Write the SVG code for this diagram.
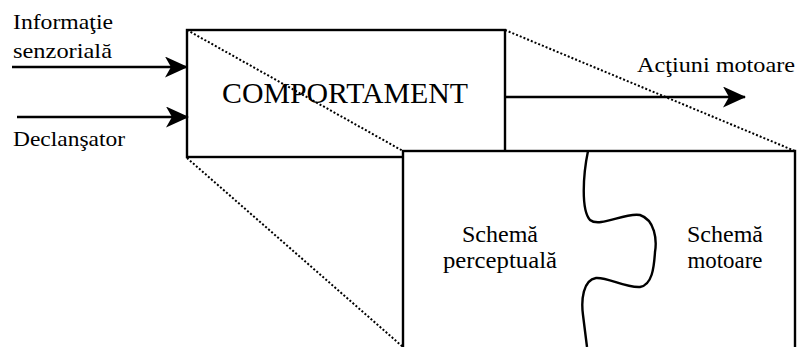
<svg xmlns="http://www.w3.org/2000/svg" width="797" height="347" viewBox="0 0 797 347">
<style>
text{font-family:"Liberation Serif","Times New Roman",serif;fill:#000}
.box{fill:#fff;stroke:#000;stroke-width:2.4}
.dot{fill:none;stroke:#000;stroke-width:2;stroke-dasharray:2 2}
.conn{fill:none;stroke:#000;stroke-width:2.4}
.lbl{font-size:22px}
.in{font-size:23px}
</style>
<defs>
<marker id="ah" markerUnits="userSpaceOnUse" viewBox="0 0 23 21" refX="22" refY="10.5" markerWidth="23" markerHeight="21" orient="auto">
<path d="M0,0 L23,10.5 L0,21 L6,10.5 Z" fill="#000"/>
</marker>
</defs>
<rect width="797" height="347" fill="#fff"/>
<g id="comportament">
<rect class="box" x="187" y="30" width="318" height="127"/>
</g>
<g id="projection">
<line class="dot" x1="187" y1="30" x2="403" y2="151"/>
<line class="dot" x1="505" y1="30" x2="795" y2="151"/>
<line class="dot" x1="187" y1="158" x2="403" y2="347"/>
</g>
<g id="comportament-label">
<text x="345" y="103" font-size="30" text-anchor="middle" textLength="246" lengthAdjust="spacingAndGlyphs">COMPORTAMENT</text>
</g>
<g id="scheme">
<rect class="box" x="403" y="151" width="392" height="220"/>
<path class="conn" d="M588,151 C583,175 581,210 590,220 C600,228 625,212 640,215 C655,220 657,240 655,252 C654,268 652,285 640,287 C625,288 608,277 596,278 C583,280 581,300 583,315 L587,347"/>
</g>
<g id="schema-perceptuala">
<text class="in" x="500" y="242" text-anchor="middle" textLength="76" lengthAdjust="spacingAndGlyphs">Schemă</text>
<text class="in" x="500" y="268" text-anchor="middle" textLength="114" lengthAdjust="spacingAndGlyphs">perceptuală</text>
</g>
<g id="schema-motoare">
<text class="in" x="725" y="242" text-anchor="middle" textLength="76" lengthAdjust="spacingAndGlyphs">Schemă</text>
<text class="in" x="725" y="268" text-anchor="middle" textLength="75" lengthAdjust="spacingAndGlyphs">motoare</text>
</g>
<g id="connectors">
<line class="conn" x1="12" y1="67" x2="187" y2="67" marker-end="url(#ah)"/>
<line class="conn" x1="17" y1="117" x2="188" y2="117" marker-end="url(#ah)"/>
<line class="conn" x1="505" y1="97" x2="745" y2="97" marker-end="url(#ah)"/>
<text class="lbl" x="13" y="29" textLength="100" lengthAdjust="spacingAndGlyphs">Informaţie</text>
<text class="lbl" x="13" y="58" textLength="99" lengthAdjust="spacingAndGlyphs">senzorială</text>
<text class="lbl" x="13" y="146" textLength="112" lengthAdjust="spacingAndGlyphs">Declanşator</text>
<text class="lbl" x="637" y="72" textLength="158" lengthAdjust="spacingAndGlyphs">Acţiuni motoare</text>
</g>
</svg>
